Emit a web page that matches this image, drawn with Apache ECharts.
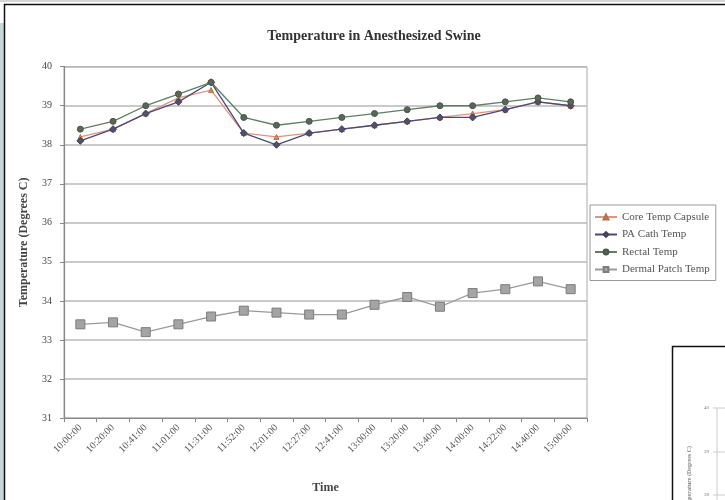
<!DOCTYPE html>
<html>
<head>
<meta charset="utf-8">
<script src="https://cdn.jsdelivr.net/npm/echarts@6/dist/echarts.min.js"></script>
<style>
html,body{margin:0;padding:0;background:#fff;}
#c{width:725px;height:500px;}
</style>
</head>
<body>
<div id="c"></div>
<script>
const times = ['10:00:00','10:20:00','10:41:00','11:01:00','11:31:00','11:52:00','12:01:00','12:27:00','12:41:00','13:00:00','13:20:00','13:40:00','14:00:00','14:22:00','14:40:00','15:00:00'];
const coreTemp   = [38.2, 38.4, 38.8, 39.2, 39.4, 38.3, 38.2, 38.3, 38.4, 38.5, 38.6, 38.7, 38.8, 38.9, 39.1, 39.0];
const paCathTemp = [38.1, 38.4, 38.8, 39.1, 39.6, 38.3, 38.0, 38.3, 38.4, 38.5, 38.6, 38.7, 38.7, 38.9, 39.1, 39.0];
const rectalTemp = [38.4, 38.6, 39.0, 39.3, 39.6, 38.7, 38.5, 38.6, 38.7, 38.8, 38.9, 39.0, 39.0, 39.1, 39.2, 39.1];
const dermalTemp = [33.4, 33.45, 33.2, 33.4, 33.6, 33.75, 33.7, 33.65, 33.65, 33.9, 34.1, 33.85, 34.2, 34.3, 34.5, 34.3];
const yTicks = [31, 32, 33, 34, 35, 36, 37, 38, 39, 40];
const seriesNames = ['Core Temp Capsule', 'PA Cath Temp', 'Rectal Temp', 'Dermal Patch Temp'];

const serif = 'Liberation Serif';
const chart = echarts.init(document.getElementById('c'), null, {renderer: 'canvas'});

function lineSeries(name, data, lineColor, symbol, size, fill, border) {
  return {
    name: name, type: 'line', data: data,
    symbol: symbol, symbolSize: size, showSymbol: true,
    lineStyle: {color: lineColor, width: 1.3},
    itemStyle: {color: fill, borderColor: border, borderWidth: 1},
    emphasis: {disabled: true}
  };
}

chart.setOption({
  animation: false,
  backgroundColor: '#fff',
  title: {
    text: 'Temperature in Anesthesized Swine',
    left: 369, top: 24, textAlign: 'center',
    textStyle: {fontFamily: serif, fontSize: 14, fontWeight: 'bold', color: '#333'}
  },
  grid: {left: 64, right: 138, top: 66.7, bottom: 82, show: true, borderColor: '#aaa', borderWidth: 1, backgroundColor: '#fff'},
  legend: {
    orient: 'vertical', left: 590, top: 205,
    padding: [6, 6, 5, 4], itemGap: 5.5, itemWidth: 22, itemHeight: 6,
    borderColor: '#999', borderWidth: 1,
    textStyle: {fontFamily: serif, fontSize: 11, color: '#555', lineHeight: 12},
    data: seriesNames
  },
  xAxis: {
    type: 'category', data: times, boundaryGap: true,
    name: 'Time', nameLocation: 'middle', nameGap: 64,
    nameTextStyle: {fontFamily: serif, fontSize: 12, fontWeight: 'bold', color: '#444'},
    axisLine: {lineStyle: {color: '#888', width: 1.2}},
    axisTick: {show: true, length: 4, lineStyle: {color: '#888'}},
    axisLabel: {rotate: 45, fontFamily: serif, fontSize: 10, color: '#555', margin: 8},
    splitLine: {show: false}
  },
  yAxis: {
    type: 'value', min: yTicks[0], max: yTicks[yTicks.length - 1], interval: 1,
    name: 'Temperature (Degrees C)', nameLocation: 'middle', nameGap: 34,
    nameTextStyle: {fontFamily: serif, fontSize: 12, fontWeight: 'bold', color: '#444'},
    axisLine: {show: true, lineStyle: {color: '#888', width: 1.2}},
    axisTick: {show: true, length: 4, lineStyle: {color: '#888'}},
    axisLabel: {fontFamily: serif, fontSize: 10, color: '#444', margin: 12},
    splitLine: {show: true, lineStyle: {color: '#b8b8b8', width: 1.5}}
  },
  series: [
    lineSeries(seriesNames[0], coreTemp, '#e0957a', 'triangle', 5, '#d08a6a', '#b07050'),
    lineSeries(seriesNames[1], paCathTemp, '#4a4a7a', 'diamond', 7, '#50506a', '#40405a'),
    lineSeries(seriesNames[2], rectalTemp, '#5f7f62', 'circle', 6, '#5a665a', '#4a564a'),
    lineSeries(seriesNames[3], dermalTemp, '#9a9a9a', 'rect', 9, '#a4a4a4', '#7c7c7c')
  ],
  graphic: [
    {type: 'line', silent: true, shape: {x1: 0, y1: 1, x2: 725, y2: 1}, style: {stroke: '#aaa', lineWidth: 1}},
    {type: 'rect', silent: true, shape: {x: 0, y: 23, width: 4, height: 477}, style: {fill: '#c6d6d9'}},
    {type: 'polyline', silent: true, shape: {points: [[4.5, 500], [4.5, 4.5], [725, 4.5]]}, style: {stroke: '#111', lineWidth: 1.5, fill: null}},
    {type: 'rect', silent: true, shape: {x: 673, y: 347, width: 52, height: 153}, style: {fill: '#fff'}},
    {type: 'polyline', silent: true, shape: {points: [[672.5, 500], [672.5, 346.5], [725, 346.5]]}, style: {stroke: '#111', lineWidth: 1.5, fill: null}},
    {type: 'line', silent: true, shape: {x1: 717, y1: 408, x2: 717, y2: 500}, style: {stroke: '#ccc', lineWidth: 1}},
    {type: 'line', silent: true, shape: {x1: 713, y1: 408, x2: 725, y2: 408}, style: {stroke: '#ccc', lineWidth: 1}},
    {type: 'line', silent: true, shape: {x1: 713, y1: 452, x2: 725, y2: 452}, style: {stroke: '#ccc', lineWidth: 1}},
    {type: 'line', silent: true, shape: {x1: 713, y1: 495, x2: 725, y2: 495}, style: {stroke: '#ccc', lineWidth: 1}},
    {type: 'text', silent: true, x: 709, y: 408, style: {text: '40', fontFamily: serif, fontSize: 5, fill: '#777', align: 'right', verticalAlign: 'middle'}},
    {type: 'text', silent: true, x: 709, y: 452, style: {text: '39', fontFamily: serif, fontSize: 5, fill: '#777', align: 'right', verticalAlign: 'middle'}},
    {type: 'text', silent: true, x: 709, y: 495, style: {text: '38', fontFamily: serif, fontSize: 5, fill: '#777', align: 'right', verticalAlign: 'middle'}},
    {type: 'text', silent: true, x: 689, y: 446, rotation: Math.PI / 2, style: {text: 'Temperature (Degrees C)', fontFamily: serif, fontSize: 6, fontWeight: 'bold', fill: '#888', align: 'right', verticalAlign: 'middle'}}
  ]
});
</script>
</body>
</html>
